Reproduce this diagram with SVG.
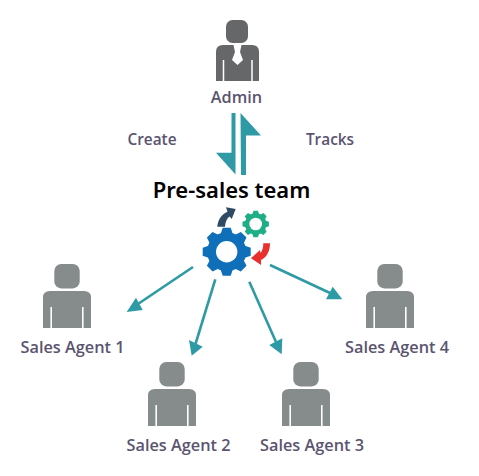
<svg xmlns="http://www.w3.org/2000/svg" xmlns:xlink="http://www.w3.org/1999/xlink" width="479" height="476" viewBox="0 0 479 476">
<style>
.lbl{font-family:"Open Sans","Noto Sans",sans-serif;font-weight:600;font-size:16.3px;fill:#5b5470;text-anchor:middle}
.mid{font-size:15.4px}
.conn{stroke:#2e9aa5;stroke-width:2.6;fill:none}
.head{fill:#2e9aa5}
.person{fill:#868b8c}
.slit{stroke:#fff;stroke-width:1.6;fill:none}
</style>
<defs>
<g id="person">
<rect class="person" x="11.3" y="0" width="25.4" height="24.4" rx="7"/>
<path class="person" d="M0 37V33.5Q0 27 7 27H41Q48 27 48 33.5V64H0Z"/>
<path class="slit" d="M8.2 64V43M39.8 64V43"/>
</g>
<g id="tooth"><path d="M-6.2 -17.5L-4 -24H4L6.2 -17.5Z"/></g>
<g id="gear">
<circle r="19.5"/>
<use xlink:href="#tooth"/>
<use xlink:href="#tooth" transform="rotate(45)"/>
<use xlink:href="#tooth" transform="rotate(90)"/>
<use xlink:href="#tooth" transform="rotate(135)"/>
<use xlink:href="#tooth" transform="rotate(180)"/>
<use xlink:href="#tooth" transform="rotate(225)"/>
<use xlink:href="#tooth" transform="rotate(270)"/>
<use xlink:href="#tooth" transform="rotate(315)"/>
</g>
</defs>
<rect width="479" height="476" fill="#fff"/>
<g id="connectors">
<path class="head" d="M231.5 113H235.5V174.5L216 152.7H231.5Z"/>
<path class="head" d="M240.5 113L261 135.5H246V175H241Z"/>
<path class="conn" d="M193 267L132 308"/>
<path class="head" d="M126.7 312L136 297.7L142.7 310Z"/>
<path class="conn" d="M215.3 279.3L195.5 344"/>
<path class="head" d="M191.7 355.7L189 340L202.7 346.7Z"/>
<path class="conn" d="M249.3 281.7L276 342"/>
<path class="head" d="M281.7 354.3L269.3 345L282.3 338.3Z"/>
<path class="conn" d="M270 265L330 293"/>
<path class="head" d="M342.3 299.3L326 299.3L332.7 286.7Z"/>
</g>
<g id="admin">
<rect x="226" y="20" width="22" height="23" rx="6.5" fill="#666769"/>
<path d="M216 52Q216 45 223 45H252Q259 45 259 52V81H216Z" fill="#666769"/>
<path d="M223.5 81V60M252 81V60" stroke="#fff" stroke-width="1.5" fill="none"/>
<path d="M233.5 45H241.5L240 52L243 60L237.5 65L232 60L235 52Z" fill="#fff"/>
<text class="lbl" x="236.5" y="102.5">Admin</text>
</g>
<g id="create"><text class="lbl mid" x="152" y="145">Create</text></g>
<g id="tracks"><text class="lbl mid" x="330" y="145">Tracks</text></g>
<g id="pre-sales-team">
<text x="231.5" y="198" font-family="'Noto Sans','Open Sans',sans-serif" font-weight="600" font-size="22" fill="#000" text-anchor="middle">Pre-sales team</text>
<use xlink:href="#gear" transform="translate(226.7 251.7)" fill="#0f6fb8"/>
<circle cx="226.7" cy="251.7" r="10.7" fill="#fff"/>
<use xlink:href="#gear" transform="translate(255.7 224) scale(.55)" fill="#1fae85"/>
<circle cx="255.7" cy="224" r="6.3" fill="#fff"/>
<path d="M217.3 226.7C218 219 222 214 227.5 211.8L226 207.3L235.7 209L231.7 219L229.7 216.5C227 218 225.5 222 225 226.7Z" fill="#2f4a63"/>
<path d="M263.3 243.3H270C270 251 267 257 261 260L261 265L251 258.3L260 250L260.5 253C262.3 251 263.3 248 263.3 243.3Z" fill="#e8312f"/>
</g>
<g id="agent1"><use xlink:href="#person" transform="translate(43 264)"/><text class="lbl" x="72.5" y="352.5">Sales Agent 1</text></g>
<g id="agent2"><use xlink:href="#person" transform="translate(148 362)"/><text class="lbl" x="178.5" y="450.5">Sales Agent 2</text></g>
<g id="agent3"><use xlink:href="#person" transform="translate(282 362)"/><text class="lbl" x="312" y="450.5">Sales Agent 3</text></g>
<g id="agent4"><use xlink:href="#person" transform="translate(366 264)"/><text class="lbl" x="397" y="352.5">Sales Agent 4</text></g>
</svg>
